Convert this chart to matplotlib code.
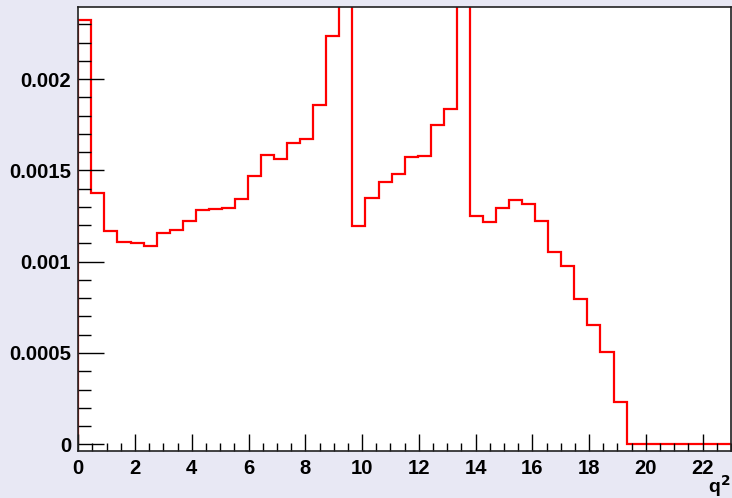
import numpy as np
import matplotlib
matplotlib.use("Agg")
from matplotlib import pyplot as plt
from matplotlib.ticker import MultipleLocator, FuncFormatter

# histogram: 50 bins from 0 to 23
bin_edges = np.linspace(0, 23, 51)
counts = [
    0.002324, 0.001378, 0.001170, 0.001106, 0.001102, 0.001088, 0.001157, 0.001174,
    0.001225, 0.001285, 0.001290, 0.001296, 0.001342, 0.001471, 0.001583, 0.001561,
    0.001648, 0.001670, 0.001858, 0.002234, 0.003000, 0.001197, 0.001350, 0.001438,
    0.001482, 0.001572, 0.001581, 0.001750, 0.001836, 0.002700, 0.001250, 0.001215,
    0.001292, 0.001336, 0.001314, 0.001223, 0.001055, 0.000976, 0.000796, 0.000653,
    0.000505, 0.000232, 0.0, 0.0, 0.0, 0.0, 0.0, 0.0, 0.0, 0.0,
]

plt.rcParams['font.family'] = ['Liberation Sans', 'DejaVu Sans']
plt.rcParams['font.weight'] = 'bold'

fig = plt.figure(figsize=(7.32, 4.98), dpi=100, facecolor='#e8e8f4')
ax = fig.add_axes([78.3 / 732, 1 - 451 / 498, (731 - 78.3) / 732, (451 - 7.3) / 498])
ax.set_facecolor('white')

ax.stairs(counts, bin_edges, color='#ff0000', lw=1.6)

ax.set_xlim(0, 23)
ax.set_ylim(-0.0000367, 0.002393)

ax.xaxis.set_major_locator(MultipleLocator(2))
ax.xaxis.set_minor_locator(MultipleLocator(0.5))
ax.yaxis.set_major_locator(MultipleLocator(0.0005))
ax.yaxis.set_minor_locator(MultipleLocator(0.0001))
ax.yaxis.set_major_formatter(FuncFormatter(lambda v, p: '0' if abs(v) < 1e-12 else ('%g' % v)))

ax.tick_params(axis='both', which='both', direction='in', labelsize=14.6, colors='black')
ax.tick_params(axis='y', which='major', length=19, width=1, pad=5)
ax.tick_params(axis='y', which='minor', length=9, width=1)
ax.tick_params(axis='x', which='major', length=12.5, width=1, pad=6)
ax.tick_params(axis='x', which='minor', length=6, width=1)

for s in ax.spines.values():
    s.set_linewidth(1.2)
    s.set_color('#222222')

fig.text(730 / 732, 1 - 492.5 / 498, 'q$^{\\mathbf{2}}$', ha='right', va='baseline',
         fontsize=14, fontweight='bold')

plt.savefig("out.png", dpi=100, facecolor=fig.get_facecolor())
